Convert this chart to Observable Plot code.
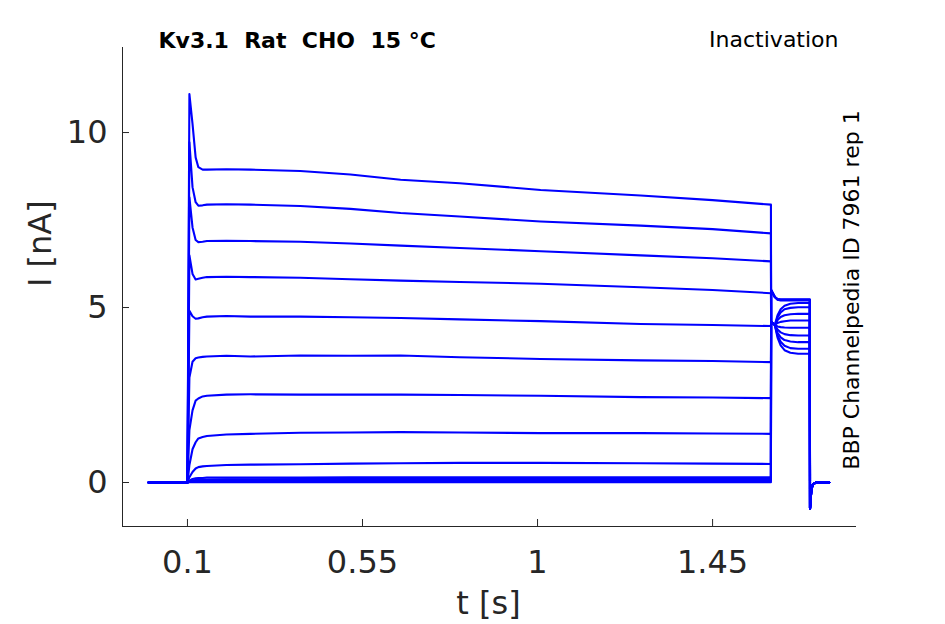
<!DOCTYPE html>
<html>
<head>
<meta charset="utf-8">
<script src="https://cdn.jsdelivr.net/npm/d3@7"></script>
<script src="https://cdn.jsdelivr.net/npm/@observablehq/plot@0.6"></script>
<style>
  html, body { margin: 0; padding: 0; background: #fff; }
  #chart { width: 945px; height: 624px; }
</style>
</head>
<body>
<div id="chart"></div>
<script>
// ---- Data ----
const titleText = "Kv3.1\u00a0\u00a0Rat\u00a0\u00a0CHO\u00a0\u00a015 °C";
const protocolText = "Inactivation";
const sideText = "BBP Channelpedia ID 7961 rep 1";
const xLabel = "t [s]";
const yLabel = "I [nA]";
const xTicks = [0.1, 0.55, 1, 1.45];
const xTickLabels = ["0.1", "0.55", "1", "1.45"];
const yTicks = [0, 5, 10];
const yTickLabels = ["0", "5", "10"];
const xDomain = [-0.067, 1.82];
const yDomain = [-1.257, 12.43];

// pre-pulse (step 1) sample times, s
const step1Times = [0, 0.0995, 0.1, 0.105, 0.113, 0.121, 0.128, 0.139, 0.15, 0.2, 0.262, 0.39, 0.519, 0.648, 0.8, 1.008, 1.265, 1.45, 1.6];
// current, nA, per trace, at step1Times
const step1Values = [
  [0, 0, 0, 11.1, 10.25, 9.29, 9.01, 8.94, 8.94, 8.95, 8.94, 8.9, 8.8, 8.65, 8.55, 8.36, 8.2, 8.07, 7.94],
  [0, 0, 0, 9.72, 8.44, 8.01, 7.91, 7.92, 7.94, 7.95, 7.94, 7.9, 7.82, 7.7, 7.6, 7.46, 7.34, 7.24, 7.12],
  [0, 0, 0, 8.15, 7.29, 6.93, 6.87, 6.88, 6.9, 6.91, 6.9, 6.88, 6.83, 6.77, 6.7, 6.61, 6.49, 6.41, 6.32],
  [0, 0, 0, 6.49, 5.96, 5.8, 5.82, 5.85, 5.87, 5.88, 5.87, 5.85, 5.81, 5.77, 5.73, 5.68, 5.58, 5.5, 5.41],
  [0, 0, 0, 4.91, 4.75, 4.68, 4.69, 4.72, 4.74, 4.76, 4.74, 4.74, 4.72, 4.7, 4.66, 4.61, 4.53, 4.5, 4.47],
  [0, 0, 0, 3.0, 3.45, 3.55, 3.57, 3.59, 3.6, 3.62, 3.6, 3.63, 3.62, 3.63, 3.58, 3.53, 3.49, 3.47, 3.44],
  [0, 0, 0, 1.5, 2.06, 2.34, 2.4, 2.46, 2.48, 2.51, 2.52, 2.51, 2.51, 2.51, 2.5, 2.48, 2.44, 2.43, 2.41],
  [0, 0, 0, 0.5, 0.95, 1.15, 1.26, 1.3, 1.33, 1.37, 1.39, 1.42, 1.43, 1.44, 1.43, 1.41, 1.41, 1.4, 1.39],
  [0, 0, 0, 0.15, 0.3, 0.4, 0.44, 0.46, 0.47, 0.5, 0.51, 0.52, 0.54, 0.55, 0.56, 0.56, 0.55, 0.54, 0.53],
  [0, 0, 0, 0.05, 0.1, 0.12, 0.13, 0.13, 0.14, 0.14, 0.14, 0.14, 0.15, 0.15, 0.15, 0.15, 0.15, 0.15, 0.15],
  [0, 0, 0, 0.03, 0.06, 0.07, 0.08, 0.08, 0.08, 0.09, 0.09, 0.1, 0.1, 0.1, 0.1, 0.1, 0.1, 0.1, 0.1],
  [0, 0, 0, 0.02, 0.03, 0.04, 0.04, 0.04, 0.05, 0.05, 0.05, 0.05, 0.05, 0.06, 0.06, 0.06, 0.06, 0.06, 0.06],
  [0, 0, 0, 0.01, 0.01, 0.01, 0.01, 0.01, 0.01, 0.01, 0.01, 0.01, 0.01, 0.01, 0.01, 0.01, 0.01, 0.01, 0.01]
];

// test pulse (step 2) sample times, s
const step2Times = [1.6005, 1.61, 1.617, 1.625, 1.635, 1.65, 1.67, 1.7];
const step2Values = [
  [4.6, 4.5, 4.14, 3.92, 3.78, 3.71, 3.68, 3.68],
  [4.6, 4.5, 4.20, 4.02, 3.91, 3.84, 3.82, 3.82],
  [4.6, 4.5, 4.28, 4.15, 4.07, 4.03, 4.01, 4.01],
  [4.6, 4.5, 4.37, 4.29, 4.24, 4.21, 4.2, 4.2],
  [4.6, 4.5, 4.46, 4.44, 4.43, 4.42, 4.42, 4.42],
  [4.6, 4.5, 4.56, 4.59, 4.61, 4.63, 4.63, 4.63],
  [4.6, 4.5, 4.64, 4.73, 4.78, 4.81, 4.82, 4.82],
  [4.6, 4.5, 4.72, 4.86, 4.95, 4.99, 5.01, 5.01],
  [4.6, 4.5, 4.78, 4.95, 5.05, 5.11, 5.13, 5.13],
  [5.5, 5.3, 5.22, 5.2, 5.2, 5.2, 5.2, 5.2],
  [5.5, 5.3, 5.23, 5.22, 5.22, 5.22, 5.22, 5.22],
  [5.5, 5.3, 5.24, 5.23, 5.23, 5.23, 5.23, 5.23],
  [5.5, 5.3, 5.24, 5.23, 5.23, 5.23, 5.23, 5.23]
];

// return to holding (tail), shared by all traces
const tailTimes = [1.7005, 1.704, 1.708, 1.715, 1.75];
const tailValues = [-0.75, -0.2, -0.05, 0, 0];

// ---- build long table ----
const rows = [];
step1Values.forEach((vals, k) => {
  step1Times.forEach((t, i) => rows.push({trace: k, t, i: vals[i]}));
  step2Times.forEach((t, i) => rows.push({trace: k, t, i: step2Values[k][i]}));
  tailTimes.forEach((t, i) => rows.push({trace: k, t, i: tailValues[i]}));
});

const W = 945, H = 624, mL = 122, mR = 89, mT = 47, mB = 98;
const plotW = W - mL - mR, plotH = H - mT - mB;
const axisColor = "#262626";
const font = "DejaVu Sans";

const chart = Plot.plot({
  width: W, height: H,
  marginLeft: mL, marginRight: mR, marginTop: mT, marginBottom: mB,
  x: {domain: xDomain, axis: null},
  y: {domain: yDomain, axis: null},
  style: {fontFamily: font, background: "#fff", overflow: "visible"},
  marks: [
    Plot.line(rows, {x: "t", y: "i", z: "trace", stroke: "#0000ff", strokeWidth: 2.1, strokeLinejoin: "round"}),
    Plot.ruleX([xDomain[0]], {stroke: axisColor, strokeWidth: 1}),
    Plot.ruleY([yDomain[0]], {stroke: axisColor, strokeWidth: 1}),
    Plot.tickY(yTicks, {y: d => d, insetRight: plotW - 7, stroke: axisColor}),
    Plot.tickX(xTicks, {x: d => d, insetTop: plotH - 7, stroke: axisColor}),
    Plot.text(yTicks, {x: xDomain[0], y: d => d, text: (d, i) => yTickLabels[i], dx: -15, textAnchor: "end", lineAnchor: "middle", fontSize: 32, fill: axisColor}),
    Plot.text(xTicks, {x: d => d, y: yDomain[0], text: (d, i) => xTickLabels[i], dy: 46, lineAnchor: "bottom", fontSize: 32, fill: axisColor}),
    Plot.text([xLabel], {frameAnchor: "bottom", dx: -1, dy: 87, lineAnchor: "bottom", fontSize: 32, fill: axisColor}),
    Plot.text([yLabel], {frameAnchor: "left", rotate: -90, dx: -72, lineAnchor: "bottom", fontSize: 32, fill: axisColor}),
    Plot.text([titleText], {frameAnchor: "top-left", dx: 36, dy: 0, lineAnchor: "bottom", textAnchor: "start", fontSize: 22, fontWeight: "bold", fill: "#000"}),
    Plot.text([protocolText], {frameAnchor: "top-right", dx: -18, dy: -1, lineAnchor: "bottom", textAnchor: "end", fontSize: 22, fill: "#000"}),
    Plot.text([sideText], {frameAnchor: "right", rotate: -90, dx: 2, dy: 3, lineAnchor: "bottom", textAnchor: "middle", fontSize: 22, fill: "#000"})
  ]
});
document.getElementById("chart").appendChild(chart);
</script>
</body>
</html>
